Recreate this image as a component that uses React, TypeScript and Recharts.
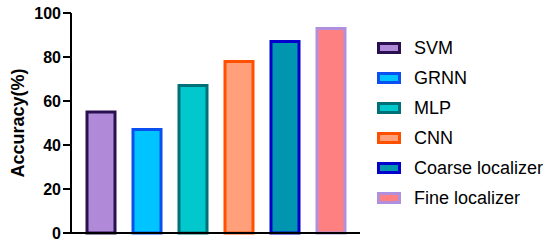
import React from 'react';
import { BarChart, Bar, XAxis, YAxis } from 'recharts';

const models = ['SVM', 'GRNN', 'MLP', 'CNN', 'Coarse localizer', 'Fine localizer'];
const accuracy = [55, 47, 67, 78, 87, 93];
const fills = ['#B08AD8', '#00C4FF', '#00C8CC', '#FFA07A', '#0096B0', '#FF8080'];
const strokes = ['#2B1050', '#0A50F0', '#007078', '#FF5000', '#0000CC', '#B090DC'];
const yTicks = [0, 20, 40, 60, 80, 100];

const row: Record<string, number | string> = { name: 'all' };
models.forEach((m, i) => {
    row[m] = accuracy[i];
});
const data = [row];

// legend drawn beside the plot, like the original figure
const LegendBox = () => (
    <div
        style={{
            position: 'absolute',
            left: 377,
            top: 33,
            fontFamily: 'Liberation Sans, Arial, sans-serif',
            fontSize: 18,
            color: '#000',
        }}
    >
        {models.map((m, i) => (
            <div key={m} style={{ display: 'flex', alignItems: 'center', height: 30 }}>
                <span
                    style={{
                        display: 'inline-block',
                        boxSizing: 'border-box',
                        width: 24,
                        height: 12,
                        background: fills[i],
                        border: `3px solid ${strokes[i]}`,
                    }}
                />
                <span style={{ marginLeft: 13 }}>{m}</span>
            </div>
        ))}
    </div>
);

const App = () => {
    return (
        <div style={{ position: 'absolute', left: 0, top: 0, width: 550, height: 252, background: '#fff' }}>
            <BarChart
                width={550}
                height={252}
                data={data}
                margin={{ top: 13, right: 190, bottom: 0, left: 0 }}
                barSize={28}
                barGap={18}
            >
                <XAxis
                    dataKey="name"
                    height={19}
                    tick={false}
                    axisLine={{ stroke: '#000', strokeWidth: 2 }}
                    tickLine={{ stroke: '#000', strokeWidth: 2 }}
                    tickSize={8}
                />
                <YAxis
                    width={71}
                    domain={[0, 100]}
                    ticks={yTicks}
                    interval={0}
                    axisLine={{ stroke: '#000', strokeWidth: 2 }}
                    tickLine={{ stroke: '#000', strokeWidth: 2 }}
                    tickSize={8}
                    tickMargin={2}
                    tick={{ fill: '#000', fontSize: 16, fontWeight: 'bold', fontFamily: 'Liberation Sans, Arial, sans-serif' }}
                    label={{
                        value: 'Accuracy(%)',
                        angle: -90,
                        position: 'insideLeft',
                        offset: 18,
                        style: {
                            textAnchor: 'middle',
                            fill: '#000',
                            fontSize: 18,
                            fontWeight: 'bold',
                            fontFamily: 'Liberation Sans, Arial, sans-serif',
                        },
                    }}
                />
                {models.map((m, i) => (
                    <Bar
                        key={m}
                        dataKey={m}
                        fill={fills[i]}
                        stroke={strokes[i]}
                        strokeWidth={3}
                        isAnimationActive={false}
                    />
                ))}
            </BarChart>
            <LegendBox />
        </div>
    );
};

export default App;
